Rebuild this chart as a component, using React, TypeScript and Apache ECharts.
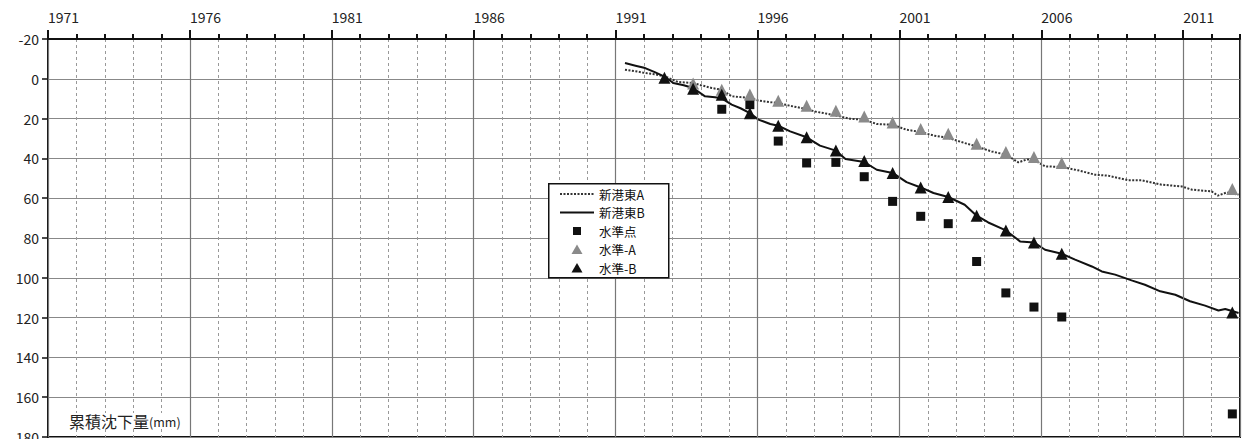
import React, { useEffect, useRef } from 'react';
import * as echarts from 'echarts';

// 新港東A (dotted line)
const lineAYears = [1991.33, 1991.7, 1992.04, 1992.4, 1992.74, 1993.2, 1993.73, 1994.0, 1994.38, 1994.74, 1995.09, 1995.4, 1995.73, 1996.0, 1996.26, 1996.73, 1997.26, 1997.73, 1998.0, 1998.32, 1998.76, 1999.26, 1999.76, 2000.2, 2000.76, 2001.25, 2001.75, 2002.2, 2002.72, 2003.3, 2003.72, 2004.25, 2004.75, 2005.19, 2005.5, 2005.74, 2006.13, 2006.72, 2007.3, 2007.9, 2008.36, 2009.07, 2009.54, 2010.24, 2010.95, 2011.3, 2012.0, 2012.22, 2012.54, 2012.95];
const lineAVals = [-4.6, -3.8, -2.9, -2.2, -1.2, 1.6, 2.1, 3.2, 4.6, 5.5, 8.8, 9.2, 9.6, 10.8, 11.4, 12.2, 13.9, 15.2, 16.4, 17.2, 18.4, 20.1, 20.6, 22.7, 23.1, 25.6, 26.7, 28.5, 29.7, 32.3, 34.0, 36.5, 38.1, 42.0, 40.5, 40.7, 44.0, 44.3, 46.0, 48.2, 48.7, 51.0, 51.0, 53.2, 54.1, 55.7, 56.6, 58.7, 57.1, 58.2];

// 新港東B (solid line)
const lineBYears = [1991.33, 1991.7, 1992.04, 1992.4, 1992.74, 1993.03, 1993.4, 1993.73, 1994.15, 1994.5, 1994.74, 1995.09, 1995.4, 1995.73, 1996.03, 1996.45, 1996.73, 1997.15, 1997.73, 1998.2, 1998.76, 1999.1, 1999.76, 2000.2, 2000.76, 2001.25, 2001.75, 2002.2, 2002.72, 2003.3, 2003.72, 2004.13, 2004.75, 2005.25, 2005.74, 2006.13, 2006.72, 2007.19, 2007.78, 2008.13, 2008.6, 2009.18, 2009.65, 2010.19, 2010.72, 2011.24, 2011.77, 2012.24, 2012.48, 2012.95];
const lineBVals = [-7.9, -6.6, -5.4, -3.2, -1.0, 2.1, 3.2, 4.6, 8.8, 9.3, 9.8, 13.0, 14.8, 17.2, 20.5, 22.7, 23.6, 26.4, 29.4, 33.6, 36.1, 40.3, 41.8, 45.7, 47.3, 51.9, 54.6, 57.4, 59.4, 63.3, 68.8, 72.2, 76.2, 81.7, 82.2, 85.9, 87.9, 90.9, 94.3, 96.8, 98.4, 101.3, 103.5, 106.8, 108.5, 111.8, 114.0, 116.4, 115.7, 117.7];

// 水準点 (squares)
const benchYears = [1994.74, 1995.73, 1996.73, 1997.73, 1998.76, 1999.76, 2000.76, 2001.75, 2002.72, 2003.72, 2004.75, 2005.74, 2006.72, 2012.73];
const benchVals = [15.3, 13.0, 31.3, 42.3, 42.0, 49.2, 61.6, 69.1, 72.8, 91.8, 107.6, 114.7, 119.7, 168.4];

// 水準-A (gray triangles)
const levelAYears = [1993.73, 1994.74, 1995.73, 1996.73, 1997.73, 1998.76, 1999.76, 2000.76, 2001.75, 2002.72, 2003.72, 2004.75, 2005.74, 2006.72, 2012.73];
const levelAVals = [2.3, 5.5, 7.9, 11.0, 13.5, 16.0, 19.0, 21.9, 25.2, 27.6, 32.6, 36.8, 39.3, 42.3, 55.4];

// 水準-B (black triangles)
const levelBYears = [1992.72, 1993.73, 1994.74, 1995.73, 1996.73, 1997.73, 1998.76, 1999.76, 2000.76, 2001.75, 2002.72, 2003.72, 2004.75, 2005.74, 2006.72, 2012.73];
const levelBVals = [-0.5, 5.0, 8.0, 17.3, 23.6, 29.4, 36.0, 41.3, 47.3, 54.6, 59.4, 68.8, 76.2, 82.2, 87.9, 117.4];

const seriesNames = ['新港東A', '新港東B', '水準点', '水準-A', '水準-B'];
const yAxisTitle = '累積沈下量';
const yAxisUnit = '(mm)';

const zip = (xs: number[], ys: number[]) => xs.map((x, i) => [x, ys[i]]);

const FONT = "'Noto Sans CJK JP', 'Noto Sans', sans-serif";

// legend box geometry (layout only)
const LG_X = 548;
const LG_Y = 183;
const LG_ROW0 = 194;
const LG_ROW = 18.5;
const ICON_X0 = 560;
const ICON_X1 = 594;
const ICON_CX = 577;

export default function App() {
  const ref = useRef<HTMLDivElement>(null);
  useEffect(() => {
    if (!ref.current) return;
    const chart = echarts.init(ref.current, undefined, { renderer: 'svg' });
    const rowY = (i: number) => LG_ROW0 + LG_ROW * i;
    const tri = (cy: number) => [[ICON_CX, cy - 5], [ICON_CX + 5.5, cy + 4.5], [ICON_CX - 5.5, cy + 4.5]];
    chart.setOption({
      animation: false,
      backgroundColor: '#fff',
      textStyle: { fontFamily: FONT },
      grid: {
        left: 48, right: 5, top: 39, bottom: 2,
        show: true, borderColor: '#111', borderWidth: 2,
        containLabel: false, outerBoundsMode: 'none',
      },
      xAxis: [
        {
          type: 'value', position: 'top', min: 1971, max: 2013, interval: 5,
          axisLine: { show: true, onZero: false, lineStyle: { color: '#111', width: 2 } },
          axisTick: { show: true, inside: false, length: 9, lineStyle: { color: '#111', width: 2 } },
          axisLabel: {
            show: true, showMaxLabel: false, align: 'left', margin: 15,
            color: '#222', fontSize: 14, fontFamily: FONT,
            formatter: (v: number) => String(v),
          },
          splitLine: { show: true, lineStyle: { color: '#777', width: 1.2, type: 'solid' } },
          z: 3,
        },
        {
          type: 'value', position: 'top', min: 1971, max: 2013, interval: 1,
          axisLine: { show: false, onZero: false },
          axisTick: { show: true, inside: false, length: 5, lineStyle: { color: '#111', width: 2 } },
          axisLabel: { show: false },
          splitLine: { show: true, lineStyle: { color: '#999', width: 1, type: [3, 3] } },
          z: 1,
        },
      ],
      yAxis: {
        type: 'value', inverse: true, min: -20, max: 180, interval: 20,
        axisLine: { show: true, onZero: false, lineStyle: { color: '#111', width: 2 } },
        axisTick: { show: true, inside: false, length: 6, lineStyle: { color: '#111', width: 1.5 } },
        axisLabel: { color: '#222', fontSize: 14, margin: 9, fontFamily: FONT },
        splitLine: { show: true, lineStyle: { color: '#888', width: 1.2 } },
      },
      legend: {
        data: seriesNames,
        orient: 'vertical', left: ICON_X0, top: LG_ROW0 - 7, padding: 0,
        itemWidth: ICON_X1 - ICON_X0, itemHeight: 14, itemGap: LG_ROW - 14,
        icon: 'rect',
        itemStyle: { opacity: 0 },
        lineStyle: { opacity: 0 },
        textStyle: { fontSize: 12.5, color: '#111', fontFamily: FONT },
        selectedMode: false,
        z: 6,
      },
      graphic: [
        {
          type: 'rect', left: LG_X, top: LG_Y, z: 5,
          shape: { width: 120, height: 94 },
          style: { fill: '#fff', stroke: '#111', lineWidth: 1.5 },
        },
        {
          type: 'line', z: 7,
          shape: { x1: ICON_X0, y1: rowY(0), x2: ICON_X1, y2: rowY(0) },
          style: { stroke: '#333', lineWidth: 2, lineDash: [2, 1.5] },
        },
        {
          type: 'line', z: 7,
          shape: { x1: ICON_X0, y1: rowY(1), x2: ICON_X1, y2: rowY(1) },
          style: { stroke: '#111', lineWidth: 2 },
        },
        {
          type: 'rect', z: 7,
          shape: { x: ICON_CX - 4, y: rowY(2) - 4, width: 8, height: 8 },
          style: { fill: '#111' },
        },
        {
          type: 'polygon', z: 7,
          shape: { points: tri(rowY(3)) },
          style: { fill: '#8a8a8a' },
        },
        {
          type: 'polygon', z: 7,
          shape: { points: tri(rowY(4)) },
          style: { fill: '#111' },
        },
        {
          type: 'text', left: 69, top: 413, z: 5,
          style: {
            text: '{a|' + yAxisTitle + '}{b|' + yAxisUnit + '}',
            backgroundColor: '#fff',
            rich: {
              a: { fontSize: 16, fill: '#222', fontFamily: FONT },
              b: { fontSize: 12.5, fill: '#222', fontFamily: FONT },
            },
          },
        },
      ],
      series: [
        {
          name: seriesNames[0], type: 'line', data: zip(lineAYears, lineAVals),
          symbol: 'none', showSymbol: false, xAxisIndex: 0,
          lineStyle: { color: '#333', width: 2, type: [2, 1.5] },
          itemStyle: { color: '#333' }, z: 2,
        },
        {
          name: seriesNames[1], type: 'line', data: zip(lineBYears, lineBVals),
          symbol: 'none', showSymbol: false, xAxisIndex: 0,
          lineStyle: { color: '#111', width: 2 },
          itemStyle: { color: '#111' }, z: 2,
        },
        {
          name: seriesNames[2], type: 'scatter', data: zip(benchYears, benchVals),
          symbol: 'rect', symbolSize: 9, xAxisIndex: 0,
          itemStyle: { color: '#111', opacity: 1 }, z: 3,
        },
        {
          name: seriesNames[3], type: 'scatter', data: zip(levelAYears, levelAVals),
          symbol: 'triangle', symbolSize: 12, xAxisIndex: 0,
          itemStyle: { color: '#8a8a8a', opacity: 1 }, z: 3,
        },
        {
          name: seriesNames[4], type: 'scatter', data: zip(levelBYears, levelBVals),
          symbol: 'triangle', symbolSize: 12, xAxisIndex: 0,
          itemStyle: { color: '#111', opacity: 1 }, z: 3,
        },
      ],
    });
    return () => chart.dispose();
  }, []);
  return (
    <div
      ref={ref}
      style={{ position: 'fixed', left: 0, top: 0, width: 1245, height: 439, background: '#fff' }}
    />
  );
}
